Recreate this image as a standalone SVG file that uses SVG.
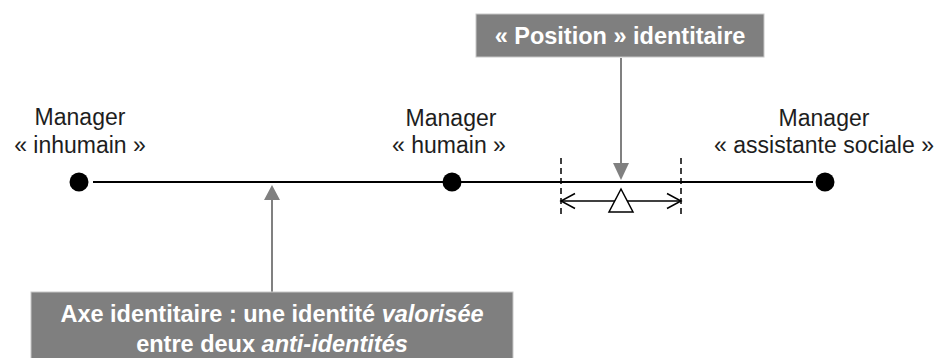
<svg xmlns="http://www.w3.org/2000/svg" width="940" height="358" viewBox="0 0 940 358">
<defs>
<style>
.lbl{font-family:"Liberation Sans",Arial,sans-serif;font-size:23px;fill:#1e1e1e;text-anchor:middle}
.box{fill:#7f7f7f;stroke:#c8c8c8;stroke-width:1}
.btxt{font-family:"Liberation Sans",Arial,sans-serif;font-size:23.5px;font-weight:bold;fill:#ffffff;text-anchor:middle}
.gray{stroke:#808080;stroke-width:2;fill:none}
.axis{stroke:#000;stroke-width:2;fill:none}
.dash{stroke:#000;stroke-width:1.5;stroke-dasharray:6 4;fill:none}
.thin{stroke:#000;stroke-width:1.5;fill:none}
</style>
<marker id="garrow" markerWidth="10" markerHeight="10" refX="9" refY="5" orient="auto" markerUnits="userSpaceOnUse" viewBox="0 0 10 10">
<path d="M0,0 L10,5 L0,10 Z" fill="#808080"/>
</marker>
</defs>
<rect width="940" height="358" fill="#ffffff"/>

<g id="connectors">
<line class="axis" x1="93" y1="182" x2="813" y2="182"/>
<line class="gray" x1="621" y1="58" x2="621" y2="164"/>
<path d="M613,163 L629,163 L621,180 Z" fill="#808080"/>
<line class="gray" x1="272" y1="292" x2="272" y2="199"/>
<path d="M264,200 L280,200 L272,185 Z" fill="#808080"/>
</g>

<g id="node-inhumain">
<circle cx="79" cy="182" r="9.5" fill="#000"/>
<text class="lbl" x="80" y="125">Manager</text>
<text class="lbl" x="80" y="153">« inhumain »</text>
</g>

<g id="node-humain">
<circle cx="452" cy="182" r="9.5" fill="#000"/>
<text class="lbl" x="451" y="126">Manager</text>
<text class="lbl" x="449" y="153">« humain »</text>
</g>

<g id="node-assistante">
<circle cx="825" cy="182" r="9.5" fill="#000"/>
<text class="lbl" x="824" y="126">Manager</text>
<text class="lbl" x="824" y="153">« assistante sociale »</text>
</g>

<g id="position-range">
<line class="dash" x1="561" y1="158" x2="561" y2="218"/>
<line class="dash" x1="681" y1="158" x2="681" y2="218"/>
<line class="thin" x1="561" y1="201" x2="681" y2="201"/>
<polyline class="thin" points="575,193.5 561,201 575,208.5"/>
<polyline class="thin" points="667,193.5 681,201 667,208.5"/>
<path d="M621,189 L633,212 L609,212 Z" fill="#fff" stroke="#000" stroke-width="1.5"/>
</g>

<g id="box-position">
<rect class="box" x="476" y="14" width="288" height="43"/>
<text class="btxt" x="620" y="44">« Position » identitaire</text>
</g>

<g id="box-axe">
<rect class="box" x="31" y="292" width="482" height="75"/>
<text class="btxt" x="272" y="322">Axe identitaire : une identité <tspan font-style="italic">valorisée</tspan></text>
<text class="btxt" x="272" y="352">entre deux <tspan font-style="italic">anti-identités</tspan></text>
</g>
</svg>
